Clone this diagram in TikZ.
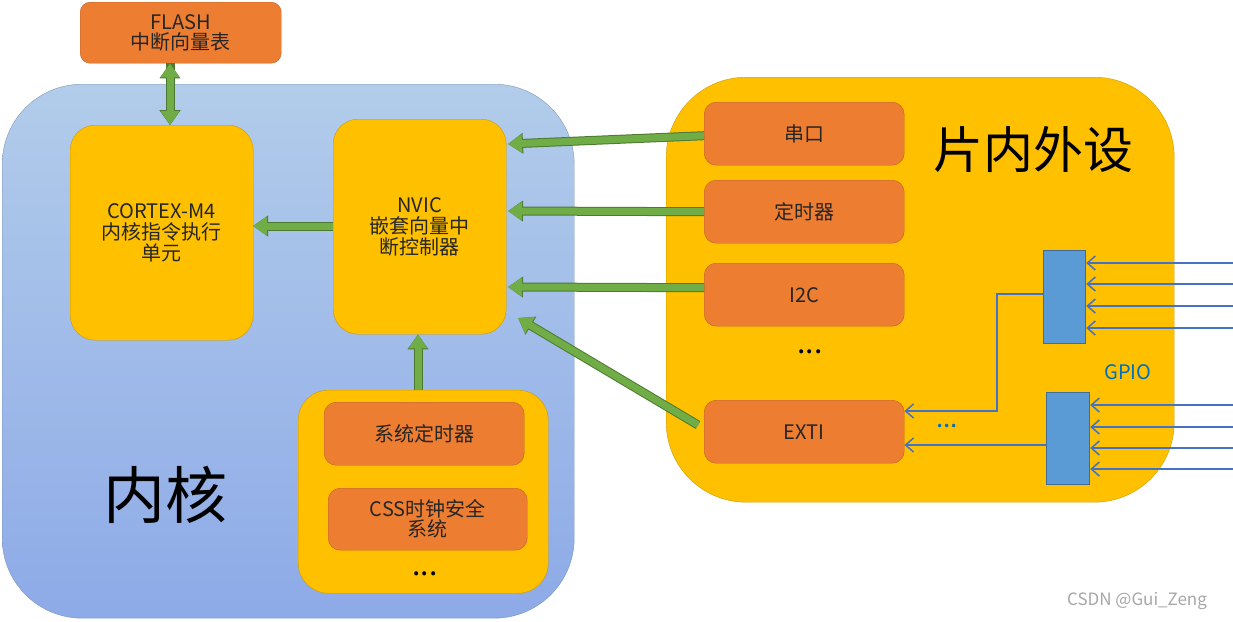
\documentclass[tikz,border=0pt]{standalone}
\usepackage{fontspec}
\setmainfont{Noto Sans CJK SC}
\usetikzlibrary{positioning, arrows.meta, shapes}
\definecolor{coreblue}{HTML}{9DBDE5}
\definecolor{coretop}{HTML}{B2CCEA}
\definecolor{gold}{HTML}{FFC000}
\definecolor{peach}{HTML}{ED7D31}
\definecolor{pinblue}{HTML}{5B9BD5}
\definecolor{wireblue}{HTML}{4472C4}
\definecolor{leaf}{HTML}{70AD47}
\definecolor{gpiotext}{HTML}{0070C0}

\begin{document}
\begin{tikzpicture}[
    x=1pt, y=-1pt,
    % GLOBAL CFG
    font=\fontsize{20}{24}\selectfont,
    % Styles
    region/.style={% For big areas
        rectangle,
        rounded corners=80pt,
        draw=#1!80!black,
        anchor=north west,
        inner sep=0pt,
    },
    unit/.style={% For yellow blocks
        rectangle,
        rounded corners=25pt,
        draw=gold!80!black,
        fill=gold,
        anchor=north west,
        inner sep=0pt,
        align=center,
        text=black!85,
    },
    part/.style={% For orange blocks
        rectangle,
        rounded corners=12pt,
        draw=peach!80!black,
        fill=peach,
        anchor=north west,
        minimum width=200pt,
        minimum height=63pt,
        inner sep=0pt,
        align=center,
        text=black!85,
    },
    port/.style={% For GPIO pins
        rectangle,
        draw=pinblue!70!black,
        line width=1.2pt,
        fill=pinblue,
        anchor=north west,
        inner sep=0pt,
    },
    fat/.style={% Green block arrows
        draw=leaf,
        line width=7pt,
        -{Triangle[width=18pt,length=14pt]},
        preaction={draw=leaf!70!black, line width=9pt, -{Triangle[width=20pt,length=15pt]}},
    },
    wire/.style={% Blue signal lines
        draw=wireblue,
        line width=1.5pt,
        -{Straight Barb[length=8pt,width=14pt]},
    },
    ]
    \useasboundingbox (0,0) rectangle (1233,621);

    % Regions
    \node[region=coreblue, top color=coretop, bottom color=coreblue!90!blue,
        minimum width=572pt, minimum height=534pt] (core) at (2,84) {};
    \node[region=gold, fill=gold, minimum width=508pt, minimum height=425pt] (periph) at (666,77) {};
    \node[font=\fontsize{62}{70}\selectfont] (corelabel) at (165,495) {内核};
    \node[font=\fontsize{50}{60}\selectfont] (periphlabel) at (1033,150) {片内外设};

    % Core blocks
    \node[part, minimum width=201pt, minimum height=61pt, rounded corners=10pt] (flash) at (80,2) {FLASH\\[-4pt]中断向量表};
    \node[unit, minimum width=183pt, minimum height=215pt] (cortex) at (70,125) {CORTEX-M4\\[-3pt]内核指令执行\\[-3pt]单元};
    \node[unit, minimum width=173pt, minimum height=215pt] (nvic) at (333,119) {NVIC\\[-3pt]嵌套向量中\\[-3pt]断控制器};
    \node[unit, minimum width=250pt, minimum height=203pt, rounded corners=30pt] (sys) at (298,390) {};
    \node[part] (systick) at (324,402) {系统定时器};
    \node[part, minimum width=199pt, minimum height=62pt] (css) at (328,488) {CSS时钟安全\\[-4pt]系统};
    \node[font=\fontsize{30}{30}\selectfont] (coredots) at (425,574) {...};

    % Peripheral blocks
    \node[part] (uart) at (704,102) {串口};
    \node[part] (timer) at (704,180) {定时器};
    \node[part] (iic) at (704,263) {I2C};
    \node[font=\fontsize{30}{30}\selectfont] (pdots) at (810,352) {...};
    \node[part] (exti) at (704,400) {EXTI};

    % GPIO
    \node[port, minimum width=42pt, minimum height=93pt] (gpa) at (1043,250) {};
    \node[port, minimum width=43pt, minimum height=92pt] (gpb) at (1046,392) {};
    \node[text=gpiotext] (gpio) at (1128,372) {GPIO};
    \node[text=gpiotext, font=\fontsize{26}{26}\selectfont] (gdots) at (947,426) {...};
    \foreach \yy in {263,284,306,328}
        \draw[wire] (1233,\yy) -- (gpa.east |- 0,\yy);
    \foreach \yy in {405,427,448,469}
        \draw[wire] (1233,\yy) -- (gpb.east |- 0,\yy);
    \coordinate (bend) at (997,294);
    \draw[wire] (gpa.west |- bend) -- (bend) |- (exti.east |- 0,411);
    \draw[wire] (gpb.west |- 0,445) -- (exti.east |- 0,445);

    % Green arrows
    \draw[fat] (uart.west) ++(0,2) -- (508,144);
    \draw[fat] (timer.west) -- (508,211);
    \draw[fat] (iic.west) ++(0,-7) -- (508,287);
    \draw[fat] (698,425) -- (518,318);
    \draw[fat] (nvic.west |- 0,226) -- (253,226);
    \draw[fat] (sys.north -| 418,0) -- (nvic.south -| 418,0);
    \draw[fat, {Triangle[width=18pt,length=14pt]}-{Triangle[width=18pt,length=14pt]},
        preaction={draw=leaf!70!black, line width=9pt, {Triangle[width=20pt,length=15pt]}-{Triangle[width=20pt,length=15pt]}}]
        (flash.south -| 170,0) -- (cortex.north -| 170,0);

    % Watermark
    \node[text=black!35, font=\fontsize{17}{17}\selectfont] (mark) at (1137,601) {CSDN @Gui\_Zeng};
\end{tikzpicture}
\end{document}
